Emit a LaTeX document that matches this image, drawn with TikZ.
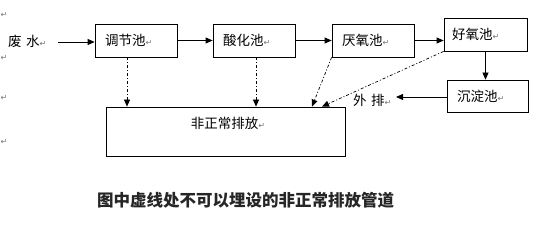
\documentclass[tikz,border=0pt]{standalone}
\usepackage{fontspec}
\setmainfont{Noto Sans CJK SC}
\newfontfamily\symfont{DejaVu Sans}
\usetikzlibrary{arrows.meta}
\newcommand{\rmark}{{\symfont\fontsize{8pt}{8pt}\selectfont\textcolor{black!55}{↵}}}
\tikzset{
  x=1pt, y=-1pt,
  box/.style={draw, line width=0.8pt, rectangle, inner sep=0pt, align=left,
    font=\fontsize{13.5pt}{14pt}\selectfont},
  flow/.style={line width=0.8pt, -{Triangle[length=7pt,width=6pt]}},
  dflow/.style={line width=0.7pt, dash pattern=on 3pt off 2pt on 1pt off 2pt,
    -{Triangle[length=7pt,width=6pt]}},
  lbl/.style={inner sep=0pt, font=\fontsize{13.5pt}{14pt}\selectfont},
  pmark/.style={inner sep=0pt}
}
\begin{document}
\begin{tikzpicture}
\useasboundingbox (0,0) rectangle (553,227);
% paragraph marks at left margin
\node[pmark] (m1) at (4,15) {\rmark};
\node[pmark] (m2) at (4,58) {\rmark};
\node[pmark] (m3) at (4,98) {\rmark};
\node[pmark] (m4) at (4,142) {\rmark};
% boxes
\node[box, minimum width=82pt, minimum height=33pt, text width=62pt] (tj) at (136,40.5) {调节池\rmark};
\node[box, minimum width=82pt, minimum height=33pt, text width=62pt] (sh) at (254,40.5) {酸化池\rmark};
\node[box, minimum width=82pt, minimum height=33pt, text width=62pt] (yy) at (373,40.5) {厌氧池\rmark};
\node[box, minimum width=83pt, minimum height=33pt, text width=67pt] (hy) at (485.5,34.5) {好氧池\rmark};
\node[box, minimum width=81pt, minimum height=32pt, text width=61pt] (cd) at (487.5,96) {沉淀池\rmark};
\node[draw, line width=0.8pt, rectangle, minimum width=239pt, minimum height=49pt] (fz) at (225.5,131.5) {};
\node[lbl] (fzt) at (228,123) {非正常排放\rmark};
% texts
\node[lbl, anchor=west] (fs) at (8,41) {废\,\,水\rmark};
\node[lbl, anchor=west] (wp) at (353,100) {外\,\,排\rmark};
\coordinate (fsend) at (58,42);
\coordinate (wpend) at (396,97);
% solid flow
\draw[flow] (fsend) -- (tj.west |- fsend);
\draw[flow] (tj.east) -- (sh.west);
\draw[flow] (sh.east) -- (yy.west);
\draw[flow] (yy.east) -- (yy.east -| hy.west);
\draw[flow] (hy.south) -- (hy.south |- cd.north);
\draw[flow] (cd.west |- wpend) -- (wpend);
% dashed flow
\draw[dflow] (tj.south -| 127,0) -- (fz.north -| 127,0);
\draw[dflow] (sh.south -| 256,0) -- (fz.north -| 256,0);
\draw[dflow] (yy.south west) -- (fz.north -| 312,0);
\draw[dflow] (hy.south west) -- (fz.north -| 322,0);
% caption
\node[inner sep=0pt, font=\fontsize{16.5pt}{17pt}\selectfont\bfseries, text=black!85] (cap) at (245.5,200) {图中虚线处不可以埋设的非正常排放管道};
\end{tikzpicture}
\end{document}
